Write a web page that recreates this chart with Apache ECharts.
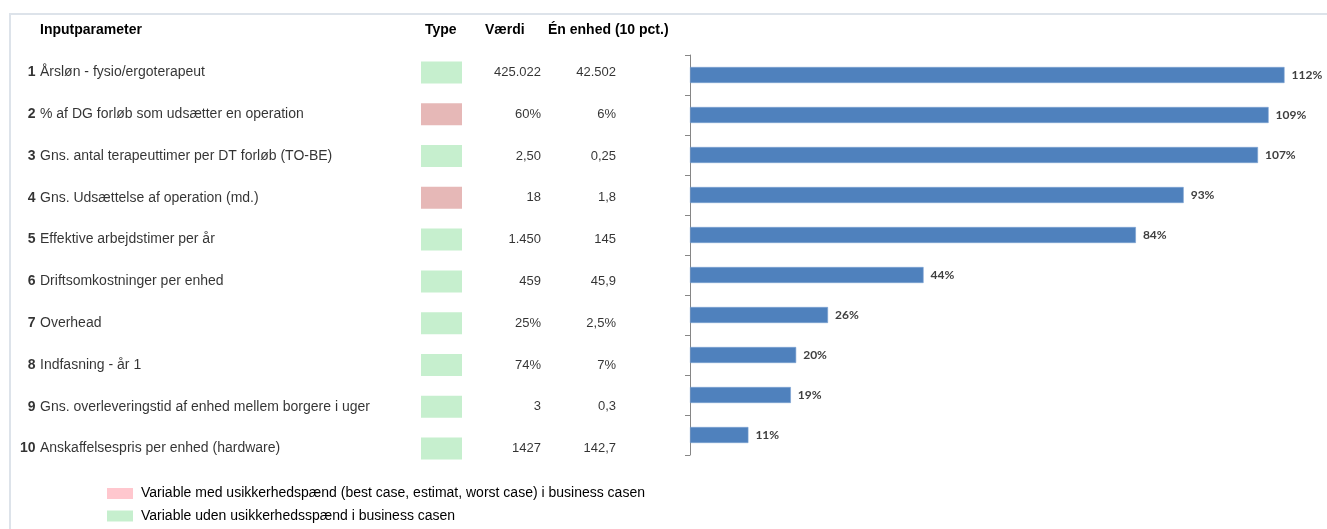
<!DOCTYPE html>
<html>
<head>
<meta charset="utf-8">
<script src="https://cdn.jsdelivr.net/npm/echarts@6/dist/echarts.min.js"></script>
<style>
  html, body { margin: 0; padding: 0; background: #fff; }
  #chart { width: 1327px; height: 529px; }
</style>
</head>
<body>
<div id="chart"></div>
<script>
// Input parameters (rows of the table, top to bottom)
const paramNumbers = ['1', '2', '3', '4', '5', '6', '7', '8', '9', '10'];
const paramNames = [
  'Årsløn - fysio/ergoterapeut',
  '% af DG forløb som udsætter en operation',
  'Gns. antal terapeuttimer per DT forløb (TO-BE)',
  'Gns. Udsættelse af operation (md.)',
  'Effektive arbejdstimer per år',
  'Driftsomkostninger per enhed',
  'Overhead',
  'Indfasning - år 1',
  'Gns. overleveringstid af enhed mellem borgere i uger',
  'Anskaffelsespris per enhed (hardware)'
];
// 'R' = variable with uncertainty range, 'G' = variable without
const paramTypes = ['G', 'R', 'G', 'R', 'G', 'G', 'G', 'G', 'G', 'G'];
const valueTexts = ['425.022', '60%', '2,50', '18', '1.450', '459', '25%', '74%', '3', '1427'];
const unitTexts = ['42.502', '6%', '0,25', '1,8', '145', '45,9', '2,5%', '7%', '0,3', '142,7'];
// Sensitivity (%) per parameter
const sensitivity = [112, 109, 107, 93, 84, 44, 26, 20, 19, 11];

const headerTexts = ['Inputparameter', 'Type', 'Værdi', 'Én enhed (10 pct.)'];
const legendTexts = [
  'Variable med usikkerhedspænd (best case, estimat, worst case) i business casen',
  'Variable uden usikkerhedsspænd i business casen'
];

// Layout
const COL_NUM = 35.5, COL_NAME = 40, COL_TYPE = 441.5, COL_VALUE = 541, COL_UNIT = 616;
const FONT = '"Liberation Sans", Arial, sans-serif';
const RED = '#E6B8B7', RED_LEGEND = '#FFC7CE', GREEN = '#C6EFCE';

const cats = paramNumbers.map((n, i) => n + ' ' + paramNames[i]);

const chart = echarts.init(document.getElementById('chart'), null, { renderer: 'canvas' });

function typeSeries(name, code, color) {
  return {
    name: name,
    type: 'scatter',
    xAxisIndex: 0, yAxisIndex: 0,
    symbol: 'rect',
    symbolSize: [41, 22],
    itemStyle: { color: color, opacity: 1 },
    emphasis: { disabled: true },
    silent: true,
    data: cats.map((c, i) => paramTypes[i] === code ? [COL_TYPE, c] : null).filter(d => d)
  };
}

function textColumn(x, texts, position, style) {
  return {
    type: 'scatter',
    xAxisIndex: 0, yAxisIndex: 0,
    symbolSize: 0,
    silent: true,
    data: cats.map(c => [x, c]),
    label: Object.assign({
      show: true, position: position, distance: 0,
      fontFamily: FONT, fontSize: 13, color: '#000',
      formatter: p => texts[p.dataIndex]
    }, style || {})
  };
}

const headerStyle = f => ({ text: f, font: 'bold 14px ' + FONT, fill: '#000' });

const option = {
  animation: false,
  backgroundColor: '#fff',
  grid: [
    { left: 0, right: 0, top: 51.5, height: 418 },   // table
    { left: 690, width: 637, top: 55, height: 400 }  // bars
  ],
  xAxis: [
    { gridIndex: 0, type: 'value', min: 0, max: 1327, show: false },
    { gridIndex: 1, type: 'value', min: 0, max: 120, show: false }
  ],
  yAxis: [
    { gridIndex: 0, type: 'category', data: cats, inverse: true, show: false },
    {
      gridIndex: 1, type: 'category', data: cats, inverse: true,
      axisLine: { show: true, lineStyle: { color: '#868686', width: 1 } },
      axisTick: { show: true, length: 5, lineStyle: { color: '#868686' } },
      axisLabel: { show: false },
      splitLine: { show: false }
    }
  ],
  legend: {
    left: 107, top: 486.5, orient: 'vertical',
    padding: 0,
    itemWidth: 26, itemHeight: 11, itemGap: 8.5,
    icon: 'rect',
    selectedMode: false,
    textStyle: { fontFamily: FONT, fontSize: 14, color: '#000', padding: [0, 0, 0, 3] },
    data: [
      { name: legendTexts[0], itemStyle: { color: RED_LEGEND } },
      { name: legendTexts[1], itemStyle: { color: GREEN } }
    ]
  },
  series: [
    // Row numbers (bold) and parameter names
    textColumn(COL_NUM, paramNumbers, 'left', { fontWeight: 'bold', fontSize: 14 }),
    textColumn(COL_NAME, paramNames, 'right', { fontSize: 14 }),
    typeSeries(legendTexts[0], 'R', RED),
    typeSeries(legendTexts[1], 'G', GREEN),
    textColumn(COL_VALUE, valueTexts, 'left'),
    textColumn(COL_UNIT, unitTexts, 'left'),
    // Sensitivity bars
    {
      type: 'bar',
      xAxisIndex: 1, yAxisIndex: 1,
      data: sensitivity,
      barCategoryGap: '60%',
      itemStyle: { color: '#4F81BD', borderColor: '#7aa1d2', borderWidth: 0.6 },
      silent: true,
      label: {
        show: true, position: 'right', distance: 7,
        fontFamily: 'Lato, "Open Sans", sans-serif', fontSize: 12, fontWeight: 'bold', color: '#404040',
        formatter: p => p.value + '%'
      }
    }
  ],
  graphic: [
    // Frame
    {
      type: 'polyline', silent: true,
      shape: { points: [[10, 529], [10, 14], [1327, 14]] },
      style: { stroke: '#dde3ea', lineWidth: 2, fill: null }
    },
    // Column headers
    { type: 'text', left: 40, top: 23, style: headerStyle(headerTexts[0]) },
    { type: 'text', left: 425, top: 23, style: headerStyle(headerTexts[1]) },
    { type: 'text', left: 485, top: 23, style: headerStyle(headerTexts[2]) },
    { type: 'text', left: 548, top: 23, style: headerStyle(headerTexts[3]) }
  ]
};

chart.setOption(option);
</script>
</body>
</html>
